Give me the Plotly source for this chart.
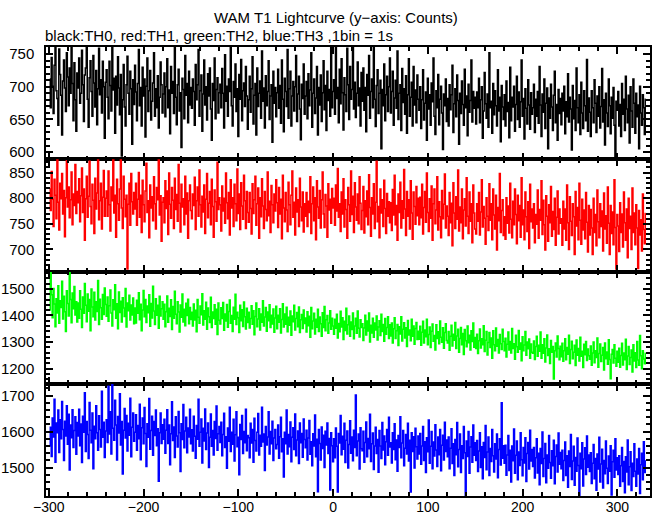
import plotly.graph_objects as go
from plotly.subplots import make_subplots

t_start = -299  # first bin centre (s), 1 bin = 1 s

th0 = [
712,668,745,701,659,733,760,694,682,641,758,719,687,626,709,741,698,662,752,715,671,729,690,763,705,648,737,680,632,721,
698,744,675,690,756,703,647,718,729,762,681,638,714,740,693,655,748,706,669,725,642,697,759,688,711,660,739,700,621,707,
726,684,651,739,702,663,761,695,713,629,716,672,746,698,657,719,594,680,734,669,640,703,747,690,658,724,697,612,711,673,
733,692,648,705,757,671,699,640,730,686,712,623,701,744,662,694,725,649,678,706,752,655,697,668,717,637,684,738,703,660,
689,721,654,700,743,668,695,628,731,690,708,659,761,684,642,703,727,663,691,607,713,696,651,748,687,705,645,724,672,699,
667,712,693,641,734,680,703,757,655,694,718,632,689,741,672,700,649,720,686,729,666,618,705,679,744,651,696,714,660,691,
704,668,728,690,637,749,678,701,655,712,693,761,671,640,708,684,735,662,697,624,719,681,742,648,694,706,670,731,686,635,
680,716,661,697,746,643,687,705,626,729,670,690,709,652,755,678,698,637,717,671,693,740,650,686,703,615,724,675,699,654,
691,727,667,702,644,741,681,631,713,693,670,757,652,697,724,640,686,708,663,700,748,647,689,716,666,619,704,682,735,658,
686,708,651,720,671,695,752,638,690,712,659,683,731,626,699,672,718,647,691,740,665,702,633,724,679,696,655,762,668,693,
711,658,760,682,699,645,727,674,743,691,634,714,688,662,759,703,650,731,681,696,761,666,707,653,690,738,671,698,640,722,
678,729,664,699,631,719,687,748,652,693,712,668,760,681,639,702,726,659,690,710,605,696,671,735,648,688,716,662,700,744,
660,693,724,641,683,710,667,755,650,690,703,633,728,676,697,658,717,629,688,743,655,684,707,640,731,672,695,645,718,681,
664,700,636,680,726,649,675,692,618,713,666,688,641,706,677,744,655,627,694,668,719,642,681,701,660,604,689,671,712,647,
682,640,703,665,688,733,630,674,697,654,718,679,612,690,659,709,673,641,727,668,686,625,704,661,679,741,646,693,667,684,
643,692,668,713,645,680,700,621,663,722,674,652,689,638,752,668,678,629,705,657,694,671,640,726,663,684,616,702,669,650,
688,640,709,662,676,622,730,648,684,669,701,632,673,716,650,692,638,677,741,655,682,620,697,667,643,711,672,635,691,658,
668,704,630,681,655,693,644,731,672,624,689,661,712,636,675,698,605,683,652,704,669,633,687,724,645,673,618,696,659,682,
642,690,663,701,628,677,654,720,646,684,666,603,702,651,679,633,729,668,645,688,627,707,660,636,694,671,648,742,632,683,
661,624,694,668,645,711,675,630,686,655,700,637,670,728,646,680,611,690,660,639,712,671,628,684,652,699,641,593,678,664,
693,640,673,624,705,658,681,633,716,666,645,687,614,700,663,638,712,675,629,690,654,672,605,701,660,641,688,668,627,681,
]

th1 = [
818,776,852,798,745,837,806,760,876,792,738,829,799,848,769,815,725,801,873,783,822,762,797,851,748,808,786,866,770,813,
791,838,754,805,859,772,818,718,799,843,763,804,872,784,750,827,796,731,839,779,810,876,758,795,829,740,802,854,765,800,
814,765,853,787,736,822,795,876,771,806,724,837,789,757,818,876,781,741,843,798,764,806,662,788,829,747,848,793,769,811,
779,829,747,798,850,763,806,733,835,787,754,814,868,772,795,723,826,781,803,756,842,789,740,821,797,876,767,805,716,792,
801,752,834,780,814,729,849,788,761,821,796,741,839,778,807,755,866,790,734,827,783,799,748,843,769,810,722,795,826,776,
760,808,786,841,739,795,822,765,855,787,744,804,773,826,731,798,848,762,790,813,748,837,784,724,816,793,755,870,778,801,
787,736,824,775,800,751,849,791,760,811,728,836,781,801,745,827,789,756,857,770,808,739,830,785,759,845,795,741,813,772,
753,811,780,730,828,770,797,843,747,789,820,722,801,764,838,785,741,813,778,756,851,766,794,733,825,787,752,808,775,836,
791,743,821,769,798,721,845,781,754,811,777,735,831,787,748,806,853,763,792,728,820,773,797,745,839,783,756,812,734,789,
765,811,745,794,772,842,731,789,822,756,801,719,834,783,761,815,742,797,851,769,743,807,785,724,828,777,798,751,819,781,
800,747,826,775,858,763,789,735,812,769,838,744,797,778,722,821,787,755,853,768,804,733,830,783,757,808,750,842,790,739,
776,823,732,795,764,814,748,846,782,726,801,769,828,741,792,872,754,784,723,818,771,797,745,835,780,731,809,765,793,752,
791,737,817,767,845,748,786,718,808,772,831,742,795,761,856,779,727,813,765,797,740,834,771,720,812,784,749,823,766,800,
748,802,762,827,730,782,813,753,849,772,735,799,761,824,718,789,818,750,777,842,738,793,764,723,815,760,788,847,742,785,
765,727,811,752,790,707,830,771,741,803,759,855,736,783,752,818,721,777,799,746,840,765,731,812,755,789,713,826,771,740,
730,789,755,811,728,773,836,744,784,761,710,801,765,737,828,757,789,719,818,767,740,806,699,782,756,848,733,776,797,727,
764,720,801,751,785,732,829,759,723,794,748,818,768,711,806,756,786,724,840,748,777,719,812,764,735,793,702,827,754,779,
742,789,713,768,749,816,722,778,757,834,729,796,748,699,805,765,716,787,752,823,726,774,739,800,708,763,814,730,779,751,
760,708,794,740,779,718,826,752,700,803,755,727,789,764,690,813,746,782,719,829,757,710,798,738,777,721,811,753,695,786,
728,778,742,690,800,733,768,707,816,754,723,789,745,775,697,810,740,766,712,822,751,690,786,731,773,709,836,743,662,768,
746,696,791,733,769,705,812,752,718,779,684,800,741,765,700,820,733,771,709,787,742,663,776,728,758,697,808,739,711,770,
]

th2 = [
1421,1565,1478,1392,1501,1443,1358,1463,1409,1512,1371,1455,1430,1528,1387,1472,1414,1340,1493,1445,1398,1563,1460,1373,1484,1425,1509,1402,1452,1376,
1447,1390,1493,1423,1355,1469,1408,1520,1438,1377,1481,1416,1460,1343,1499,1432,1395,1487,1383,1452,1415,1531,1366,1461,1429,1386,1479,1404,1503,1441,
1397,1469,1378,1437,1496,1409,1361,1459,1422,1515,1390,1444,1350,1488,1411,1453,1376,1467,1428,1396,1501,1357,1447,1418,1476,1383,1439,1402,1466,1369,
1428,1372,1457,1408,1485,1384,1442,1343,1421,1494,1395,1460,1374,1436,1410,1478,1360,1445,1391,1510,1417,1366,1463,1401,1438,1352,1472,1398,1425,1452,
1386,1442,1358,1414,1473,1375,1427,1396,1459,1347,1434,1390,1491,1405,1369,1452,1413,1338,1439,1393,1481,1376,1423,1362,1446,1400,1461,1369,1430,1385,
1412,1361,1443,1383,1420,1339,1460,1393,1371,1436,1403,1482,1364,1418,1386,1450,1348,1428,1395,1374,1468,1355,1413,1389,1440,1367,1423,1329,1447,1382,
1368,1429,1389,1449,1345,1406,1379,1441,1356,1415,1458,1371,1400,1340,1431,1386,1480,1366,1412,1392,1336,1438,1380,1422,1359,1451,1395,1349,1427,1374,
1412,1353,1389,1437,1367,1418,1328,1396,1447,1358,1387,1425,1346,1406,1375,1455,1361,1394,1430,1341,1413,1380,1440,1355,1401,1368,1424,1337,1391,1435,
1350,1401,1375,1425,1334,1385,1444,1357,1406,1367,1431,1339,1393,1363,1417,1326,1398,1377,1438,1346,1389,1411,1358,1432,1336,1384,1404,1351,1421,1370,
1391,1338,1414,1362,1397,1318,1430,1350,1379,1408,1331,1386,1356,1423,1340,1394,1369,1322,1410,1355,1434,1343,1384,1400,1333,1372,1418,1348,1390,1361,
1330,1386,1352,1405,1316,1370,1339,1416,1357,1392,1310,1378,1344,1427,1331,1365,1398,1322,1376,1347,1409,1313,1361,1390,1333,1417,1352,1319,1384,1355,
1369,1306,1353,1401,1327,1379,1342,1409,1301,1363,1334,1390,1318,1372,1346,1398,1308,1357,1380,1325,1405,1340,1366,1303,1389,1330,1355,1395,1314,1365,
1323,1372,1297,1350,1392,1314,1343,1366,1287,1358,1331,1395,1304,1348,1373,1316,1354,1284,1381,1327,1346,1305,1386,1322,1361,1292,1351,1374,1310,1341,
1311,1360,1288,1337,1378,1297,1346,1320,1386,1290,1329,1357,1280,1341,1368,1303,1325,1271,1365,1314,1339,1294,1379,1318,1300,1354,1277,1336,1369,1306,
1297,1340,1270,1322,1363,1286,1330,1307,1374,1276,1323,1348,1262,1314,1355,1290,1332,1254,1347,1305,1283,1361,1298,1326,1271,1343,1302,1372,1281,1317,
1276,1330,1257,1305,1349,1278,1313,1290,1362,1265,1307,1340,1252,1299,1336,1280,1316,1240,1343,1290,1268,1353,1285,1310,1259,1329,1294,1272,1348,1302,
1268,1315,1244,1292,1338,1271,1302,1259,1351,1276,1294,1236,1326,1283,1262,1344,1273,1297,1230,1320,1268,1289,1340,1251,1301,1275,1312,1240,1293,1262,
1258,1304,1235,1284,1322,1247,1288,1266,1338,1240,1290,1258,1313,1226,1278,1327,1250,1275,1220,1306,1262,1284,1162,1268,1297,1244,1323,1276,1234,1285,
1245,1296,1228,1268,1313,1234,1280,1255,1326,1220,1272,1303,1238,1262,1288,1212,1308,1251,1276,1229,1318,1247,1266,1205,1292,1253,1302,1231,1274,1249,
1236,1286,1213,1259,1301,1223,1268,1242,1316,1206,1257,1293,1227,1251,1280,1196,1297,1238,1263,1217,1309,1235,1163,1255,1272,1222,1290,1240,1210,1266,
1225,1277,1206,1250,1296,1214,1259,1234,1311,1197,1248,1284,1216,1242,1271,1188,1290,1229,1260,1205,1302,1233,1213,1325,1249,1200,1268,1237,1219,1258,
]

th3 = [
1560,1612,1531,1638,1585,1690,1515,1624,1597,1660,1542,1633,1580,1684,1606,1520,1629,1588,1672,1565,1648,1493,1618,1583,1661,1556,1603,1641,1537,1625,
1588,1662,1561,1621,1514,1643,1598,1708,1545,1628,1592,1525,1681,1604,1569,1652,1497,1615,1580,1672,1597,1548,1644,1606,1557,1712,1584,1626,1528,1602,
1633,1570,1726,1593,1655,1538,1740,1609,1576,1687,1618,1521,1642,1596,1705,1563,1628,1482,1604,1664,1582,1645,1546,1623,1590,1693,1530,1612,1652,1573,
1598,1647,1548,1617,1580,1676,1522,1611,1638,1566,1667,1595,1503,1622,1584,1692,1551,1603,1643,1534,1628,1589,1660,1561,1608,1462,1597,1652,1567,1619,
1579,1634,1540,1604,1661,1567,1618,1508,1594,1683,1575,1613,1528,1641,1588,1557,1656,1597,1489,1622,1578,1675,1555,1602,1640,1541,1610,1585,1662,1566,
1605,1546,1643,1587,1526,1617,1579,1690,1559,1598,1635,1513,1609,1574,1663,1550,1596,1624,1500,1584,1649,1559,1603,1535,1628,1581,1671,1548,1594,1614,
1570,1626,1533,1592,1651,1556,1586,1498,1610,1573,1668,1545,1598,1565,1634,1518,1591,1655,1558,1584,1480,1620,1578,1645,1539,1600,1569,1662,1547,1589,
1583,1527,1623,1568,1606,1515,1637,1575,1546,1598,1650,1535,1590,1559,1668,1571,1593,1492,1614,1563,1585,1655,1538,1600,1566,1629,1520,1582,1606,1552,
1564,1618,1526,1586,1640,1544,1580,1474,1598,1566,1660,1538,1592,1558,1627,1516,1584,1611,1550,1649,1533,1577,1602,1511,1624,1569,1595,1529,1635,1578,
1555,1604,1521,1582,1631,1537,1572,1505,1594,1560,1646,1530,1579,1433,1606,1567,1521,1613,1553,1590,1500,1601,1563,1624,1539,1581,1438,1597,1561,1516,
1580,1527,1610,1559,1432,1595,1568,1645,1536,1587,1551,1623,1514,1576,1602,1499,1564,1630,1540,1585,1519,1604,1556,1702,1533,1574,1593,1496,1611,1552,
1547,1601,1515,1570,1627,1530,1581,1552,1648,1517,1566,1596,1495,1560,1612,1539,1578,1487,1603,1560,1525,1625,1549,1588,1508,1572,1606,1534,1640,1557,
1569,1513,1597,1550,1622,1522,1577,1490,1589,1556,1641,1527,1568,1603,1505,1554,1592,1538,1623,1518,1576,1432,1597,1545,1586,1499,1609,1558,1524,1588,
1538,1595,1509,1560,1614,1520,1572,1486,1583,1544,1632,1512,1559,1600,1497,1571,1532,1619,1549,1503,1585,1536,1606,1491,1562,1590,1521,1626,1545,1577,
1530,1585,1497,1554,1608,1511,1566,1478,1578,1536,1625,1502,1550,1593,1486,1561,1525,1614,1541,1421,1574,1531,1600,1484,1557,1586,1515,1618,1534,1569,
1520,1575,1489,1546,1597,1500,1558,1469,1570,1528,1617,1494,1543,1585,1478,1553,1517,1606,1533,1488,1566,1524,1593,1472,1550,1580,1507,1680,1526,1561,
1512,1562,1479,1535,1589,1492,1548,1460,1560,1519,1607,1484,1534,1574,1466,1543,1506,1597,1522,1477,1556,1513,1583,1461,1539,1570,1496,1604,1518,1550,
1503,1556,1471,1527,1580,1485,1540,1452,1553,1511,1599,1475,1525,1567,1458,1535,1498,1589,1514,1470,1547,1505,1576,1455,1531,1563,1488,1596,1509,1542,
1497,1548,1464,1520,1571,1478,1533,1445,1546,1503,1592,1467,1518,1559,1451,1528,1490,1582,1506,1421,1540,1497,1569,1449,1524,1555,1481,1588,1501,1535,
1489,1541,1456,1512,1564,1469,1525,1437,1538,1496,1584,1460,1510,1551,1443,1520,1483,1574,1498,1456,1532,1490,1561,1424,1516,1548,1473,1580,1493,1527,
1481,1533,1448,1505,1556,1461,1517,1430,1530,1488,1577,1452,1502,1544,1436,1512,1475,1566,1490,1448,1524,1482,1553,1428,1508,1540,1466,1572,1486,1519,
]

series_names = ["TH0", "TH1", "TH2", "TH3"]
series_colors = ["#000000", "#ff0000", "#00ff00", "#0000ff"]
y_ranges = [[589, 761], [657, 876], [1144, 1565], [1421, 1733]]
y_dticks = [50, 50, 100, 100]
y_minor = [10, 10, 20, 20]
x_range = [-303, 334.5]

FONT = "Liberation Sans, Arial, Helvetica, sans-serif"

fig = make_subplots(rows=4, cols=1, shared_xaxes=True, vertical_spacing=0)

for i, vals in enumerate([th0, th1, th2, th3]):
    t = [t_start + k for k in range(len(vals))]
    fig.add_trace(
        go.Scatter(x=t, y=vals, mode="lines", name=series_names[i],
                   line=dict(color=series_colors[i], width=1.5, shape="hvh")),
        row=i + 1, col=1)

axis_common = dict(showline=True, linecolor="black", linewidth=1.5, mirror="allticks",
                   ticks="inside", ticklen=7, tickwidth=1.5, tickcolor="black",
                   showgrid=False, zeroline=False, automargin=False)

for i in range(4):
    fig.update_yaxes(range=y_ranges[i], dtick=y_dticks[i], tick0=0, ticklabelstandoff=7,
                     tickfont=dict(family=FONT, size=15, color="black"),
                     minor=dict(dtick=y_minor[i], ticklen=4, tickwidth=1.5,
                                tickcolor="black", ticks="inside", showgrid=False),
                     **axis_common, row=i + 1, col=1)
    fig.update_xaxes(range=x_range, dtick=100, tick0=0, ticklabelstandoff=-3,
                     tickfont=dict(family=FONT, size=14, color="black"),
                     minor=dict(dtick=20, ticklen=4, tickwidth=1.5,
                                tickcolor="black", ticks="inside", showgrid=False),
                     **axis_common, row=i + 1, col=1)

fig.update_layout(
    width=652, height=515,
    margin=dict(l=46, r=2, t=47, b=19),
    paper_bgcolor="white", plot_bgcolor="white",
    showlegend=False,
    font=dict(family=FONT, size=15, color="black"),
    annotations=[
        dict(text="WAM T1 Lightcurve (y\u2212axis: Counts)", xref="paper", yref="paper",
             x=0.48, y=1.0668, xanchor="center", yanchor="middle", showarrow=False,
             font=dict(family=FONT, size=15, color="black")),
        dict(text="black:TH0, red:TH1, green:TH2, blue:TH3 ,1bin = 1s", xref="paper", yref="paper",
             x=0, y=1.0245, xanchor="left", yanchor="middle", showarrow=False, xshift=-3,
             font=dict(family=FONT, size=15, color="black")),
    ],
)

# remove the browser's default 8 px body margin so the figure fills the window exactly
fig.write_html("out.html",
               config={"displayModeBar": False},
               post_script="document.body.style.margin='0px';document.body.style.overflow='hidden';")
